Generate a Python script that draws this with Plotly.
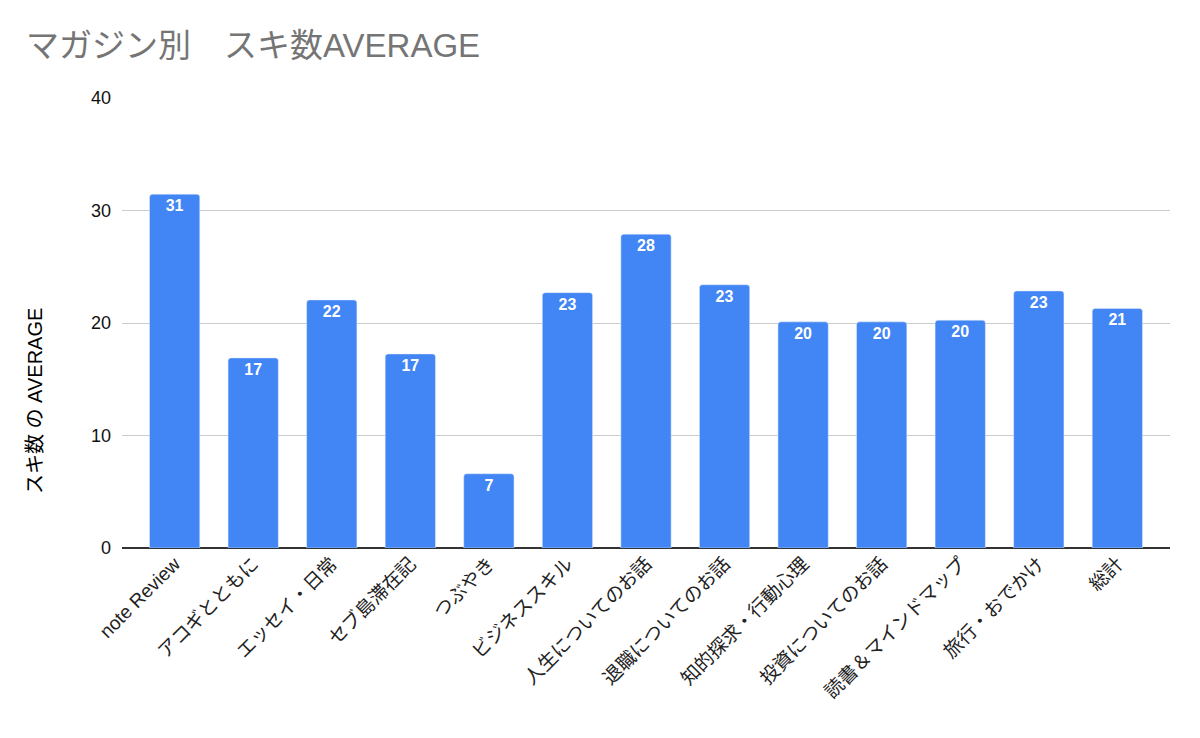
import plotly.graph_objects as go

categories = ["note Review", "アコギとともに", "エッセイ・日常", "セブ島滞在記", "つぶやき",
              "ビジネススキル", "人生についてのお話", "退職についてのお話", "知的探求・行動心理",
              "投資についてのお話", "読書＆マインドマップ", "旅行・おでかけ", "総計"]
values = [31.45, 16.9, 22.05, 17.25, 6.6, 22.7, 27.9, 23.4, 20.1, 20.1, 20.25, 22.85, 21.3]
y_ticks = [0, 10, 20, 30, 40]

FONT = "Liberation Sans, Arial, Noto Sans CJK JP, sans-serif"

W, H = 1192, 730
L, R, T, B = 114, 30, 90, 190

fig = go.Figure(go.Bar(
    x=list(range(len(categories))),
    y=values,
    width=0.64,
    marker=dict(color="#4285F4", cornerradius=3),
    texttemplate="<b>%{y:.0f}</b>",
    textposition="inside",
    insidetextanchor="end",
    textangle=0,
    textfont=dict(color="white", size=16, family=FONT),
    hoverinfo="skip",
))

fig.update_layout(
    width=W, height=H,
    margin=dict(l=L, r=R, t=T, b=B),
    paper_bgcolor="white", plot_bgcolor="white",
    showlegend=False,
    font=dict(family=FONT, color="#000"),
    title=dict(text="マガジン別　スキ数AVERAGE", x=18 / W, xanchor="left",
               y=1 - 37 / H, yanchor="middle",
               font=dict(size=33, color="#757575", family=FONT)),
    uniformtext=dict(mode=False),
)
fig.add_annotation(
    text="スキ数 の AVERAGE", textangle=-90, showarrow=False,
    xref="paper", yref="paper",
    x=(27 - L) / (W - L - R), y=(H - B - 393) / (H - T - B),
    xanchor="center", yanchor="middle",
    font=dict(size=20, color="#000", family=FONT),
)
fig.update_xaxes(
    range=[-0.67, 12.67],
    tickmode="array", tickvals=list(range(len(categories))), ticktext=categories,
    tickangle=-45, tickfont=dict(size=19, color="#222"),
    showgrid=False, showline=False, zeroline=False, ticks="",
)
fig.update_yaxes(
    range=[0, 40], tickvals=y_ticks,
    tickfont=dict(size=18, color="#111"),
    showgrid=True, gridcolor="#cccccc", gridwidth=1,
    zeroline=True, zerolinecolor="#333333", zerolinewidth=1.5,
    showline=False, ticks="", ticklabelstandoff=10,
)
fig.write_html("out.html")
